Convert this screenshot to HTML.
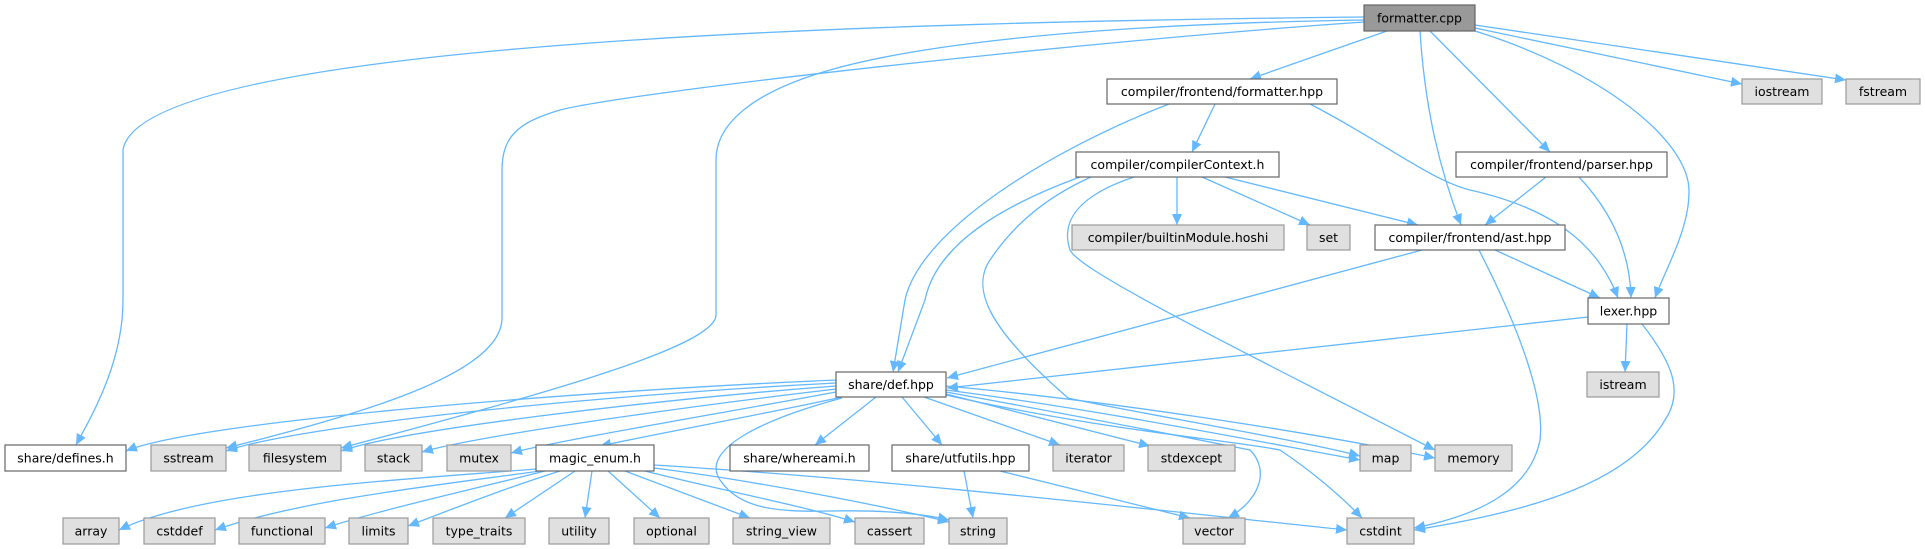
<!DOCTYPE html>
<html><head><meta charset="utf-8"><style>
html,body{margin:0;padding:0;background:#fff;}
svg{display:block;}
text{font-family:"DejaVu Sans","Liberation Sans",sans-serif;font-size:12.5px;fill:#000;text-anchor:middle;}
.e{fill:none;stroke:#63b8ff;stroke-width:1.3;marker-end:url(#a);}
.w{fill:#fff;stroke:#666;stroke-width:1.2;}
.g{fill:#e0e0e0;stroke:#999;stroke-width:1.2;}
.r{fill:#999;stroke:#666;stroke-width:1.2;}
</style></head><body>
<svg width="1925" height="549" viewBox="0 0 1925 549" xmlns="http://www.w3.org/2000/svg">
<defs><marker id="a" markerUnits="userSpaceOnUse" markerWidth="12" markerHeight="10" refX="11" refY="5" orient="auto"><path d="M0,0 L11,5 L0,10 z" fill="#63b8ff"/></marker></defs>
<!-- edges from formatter.cpp -->
<path class="e" d="M1387,31 L1250,79"/>
<path class="e" d="M1475,28 L1742,84"/>
<path class="e" d="M1475,25 L1846,80"/>
<path class="e" d="M1430,31 L1550,152"/>
<path class="e" d="M1420,31 C1425,110 1440,170 1461,225"/>
<path class="e" d="M1475,31 C1600,70 1690,140 1689,192 C1689,230 1665,270 1655,298"/>
<path class="e" d="M1364,17 C900,22 140,40 123,150 L123,300 C123,360 95,410 76,445"/>
<path class="e" d="M1364,22 C1100,40 640,90 560,110 C520,122 502,135 502,170 L502,318 C502,370 380,410 226,448"/>
<path class="e" d="M1364,20 C1050,25 900,50 830,70 C760,90 716,120 716,160 L716,315 C716,345 560,390 341,448"/>
<!-- formatter.hpp -->
<path class="e" d="M1215,104 L1192,152"/>
<path class="e" d="M1169,104 C1050,150 920,230 905,300 L893,372"/>
<path class="e" d="M1310,104 C1380,140 1430,180 1470,190 C1560,210 1600,250 1618,298"/>
<!-- compilerContext -->
<path class="e" d="M1177,177 L1177,225"/>
<path class="e" d="M1202,177 L1310,225"/>
<path class="e" d="M1225,177 L1418,225"/>
<path class="e" d="M1080,177 C990,210 935,250 925,300 L898,372"/>
<path class="e" d="M1091,177 C1040,200 1010,230 990,260 C970,290 990,330 1068,398 C1120,410 1300,440 1360,456"/>
<path class="e" d="M1134,177 C1080,195 1060,220 1070,250 C1080,270 1200,330 1435,450"/>
<!-- parser.hpp -->
<path class="e" d="M1546,177 L1485,225"/>
<path class="e" d="M1579,177 C1610,210 1630,250 1631,298"/>
<!-- ast.hpp -->
<path class="e" d="M1422,250 L947,378"/>
<path class="e" d="M1495,250 L1600,298"/>
<path class="e" d="M1479,250 C1520,330 1545,400 1540,440 C1530,490 1480,515 1414,528"/>
<!-- lexer.hpp -->
<path class="e" d="M1588,317 L947,388"/>
<path class="e" d="M1627,324 L1625,372"/>
<path class="e" d="M1642,324 C1670,360 1685,390 1665,420 C1630,480 1540,510 1414,530"/>
<!-- def.hpp -->
<path class="e" d="M836,380 C600,390 200,420 126,451"/>
<path class="e" d="M836,383 C600,395 300,425 226,451"/>
<path class="e" d="M836,386 C650,400 400,430 341,451"/>
<path class="e" d="M836,389 C700,405 480,435 422,452"/>
<path class="e" d="M836,392 C740,410 560,440 511,453"/>
<path class="e" d="M842,397 C760,415 660,433 600,446"/>
<path class="e" d="M876,397 L815,445"/>
<path class="e" d="M902,397 L942,445"/>
<path class="e" d="M924,397 L1060,445"/>
<path class="e" d="M946,394 L1150,446"/>
<path class="e" d="M946,390 C1100,410 1250,440 1360,460"/>
<path class="e" d="M946,386 C1100,400 1300,430 1435,458"/>
<path class="e" d="M946,392 C1100,420 1200,440 1250,450 C1270,470 1260,500 1228,518"/>
<path class="e" d="M946,395 C1100,430 1230,440 1280,450 C1310,470 1340,495 1362,518"/>
<path class="e" d="M842,398 C760,420 700,450 720,480 C740,510 780,512 830,511 C880,510 920,513 949,520"/>
<!-- utfutils -->
<path class="e" d="M964,471 L973,518"/>
<path class="e" d="M1000,471 L1190,518"/>
<!-- magic_enum -->
<path class="e" d="M536,469 C400,480 200,490 119,530"/>
<path class="e" d="M540,471 C440,485 300,500 215,530"/>
<path class="e" d="M545,471 C470,490 380,510 325,528"/>
<path class="e" d="M560,471 C500,490 450,510 408,526"/>
<path class="e" d="M575,471 L505,518"/>
<path class="e" d="M592,471 L585,518"/>
<path class="e" d="M608,471 L660,518"/>
<path class="e" d="M625,471 L750,518"/>
<path class="e" d="M645,471 C720,490 800,505 855,522"/>
<path class="e" d="M654,468 C750,480 880,505 949,522"/>
<path class="e" d="M654,465 C900,480 1200,515 1347,530"/>
<!-- nodes -->
<rect class="r" x="1364" y="5" width="111" height="26"/><text x="1419.5" y="22.5">formatter.cpp</text>
<rect class="w" x="1107" y="79" width="230" height="25"/><text x="1222" y="96">compiler/frontend/formatter.hpp</text>
<rect class="g" x="1742" y="79" width="80" height="25"/><text x="1782" y="96">iostream</text>
<rect class="g" x="1846" y="79" width="74" height="25"/><text x="1883" y="96">fstream</text>
<rect class="w" x="1076" y="152" width="203" height="25"/><text x="1177.5" y="169">compiler/compilerContext.h</text>
<rect class="w" x="1456" y="152" width="211" height="25"/><text x="1561.5" y="169">compiler/frontend/parser.hpp</text>
<rect class="g" x="1072" y="225" width="212" height="25"/><text x="1178" y="242">compiler/builtinModule.hoshi</text>
<rect class="g" x="1307" y="225" width="43" height="25"/><text x="1328.5" y="242">set</text>
<rect class="w" x="1375" y="225" width="190" height="25"/><text x="1470" y="242">compiler/frontend/ast.hpp</text>
<rect class="w" x="1588" y="298" width="81" height="26"/><text x="1628.5" y="315.5">lexer.hpp</text>
<rect class="g" x="1587" y="372" width="72" height="25"/><text x="1623" y="389">istream</text>
<rect class="w" x="836" y="372" width="110" height="25"/><text x="891" y="389">share/def.hpp</text>
<rect class="w" x="5" y="445" width="121" height="26"/><text x="65.5" y="462.5">share/defines.h</text>
<rect class="g" x="151" y="445" width="75" height="26"/><text x="188.5" y="462.5">sstream</text>
<rect class="g" x="249" y="445" width="92" height="26"/><text x="295" y="462.5">filesystem</text>
<rect class="g" x="365" y="445" width="57" height="26"/><text x="393.5" y="462.5">stack</text>
<rect class="g" x="447" y="445" width="64" height="26"/><text x="479" y="462.5">mutex</text>
<rect class="w" x="536" y="445" width="118" height="26"/><text x="595" y="462.5">magic_enum.h</text>
<rect class="w" x="730" y="445" width="139" height="26"/><text x="799.5" y="462.5">share/whereami.h</text>
<rect class="w" x="892" y="445" width="137" height="26"/><text x="960.5" y="462.5">share/utfutils.hpp</text>
<rect class="g" x="1053" y="445" width="71" height="26"/><text x="1088.5" y="462.5">iterator</text>
<rect class="g" x="1148" y="445" width="87" height="26"/><text x="1191.5" y="462.5">stdexcept</text>
<rect class="g" x="1360" y="445" width="51" height="26"/><text x="1385.5" y="462.5">map</text>
<rect class="g" x="1435" y="445" width="77" height="26"/><text x="1473.5" y="462.5">memory</text>
<rect class="g" x="63" y="518" width="56" height="26"/><text x="91" y="535.5">array</text>
<rect class="g" x="144" y="518" width="71" height="26"/><text x="179.5" y="535.5">cstddef</text>
<rect class="g" x="239" y="518" width="86" height="26"/><text x="282" y="535.5">functional</text>
<rect class="g" x="349" y="518" width="59" height="26"/><text x="378.5" y="535.5">limits</text>
<rect class="g" x="433" y="518" width="92" height="26"/><text x="479" y="535.5">type_traits</text>
<rect class="g" x="549" y="518" width="60" height="26"/><text x="579" y="535.5">utility</text>
<rect class="g" x="634" y="518" width="75" height="26"/><text x="671.5" y="535.5">optional</text>
<rect class="g" x="733" y="518" width="97" height="26"/><text x="781.5" y="535.5">string_view</text>
<rect class="g" x="855" y="518" width="69" height="26"/><text x="889.5" y="535.5">cassert</text>
<rect class="g" x="949" y="518" width="58" height="26"/><text x="978" y="535.5">string</text>
<rect class="g" x="1183" y="518" width="62" height="26"/><text x="1214" y="535.5">vector</text>
<rect class="g" x="1347" y="518" width="67" height="26"/><text x="1380.5" y="535.5">cstdint</text>
</svg>
</body></html>
